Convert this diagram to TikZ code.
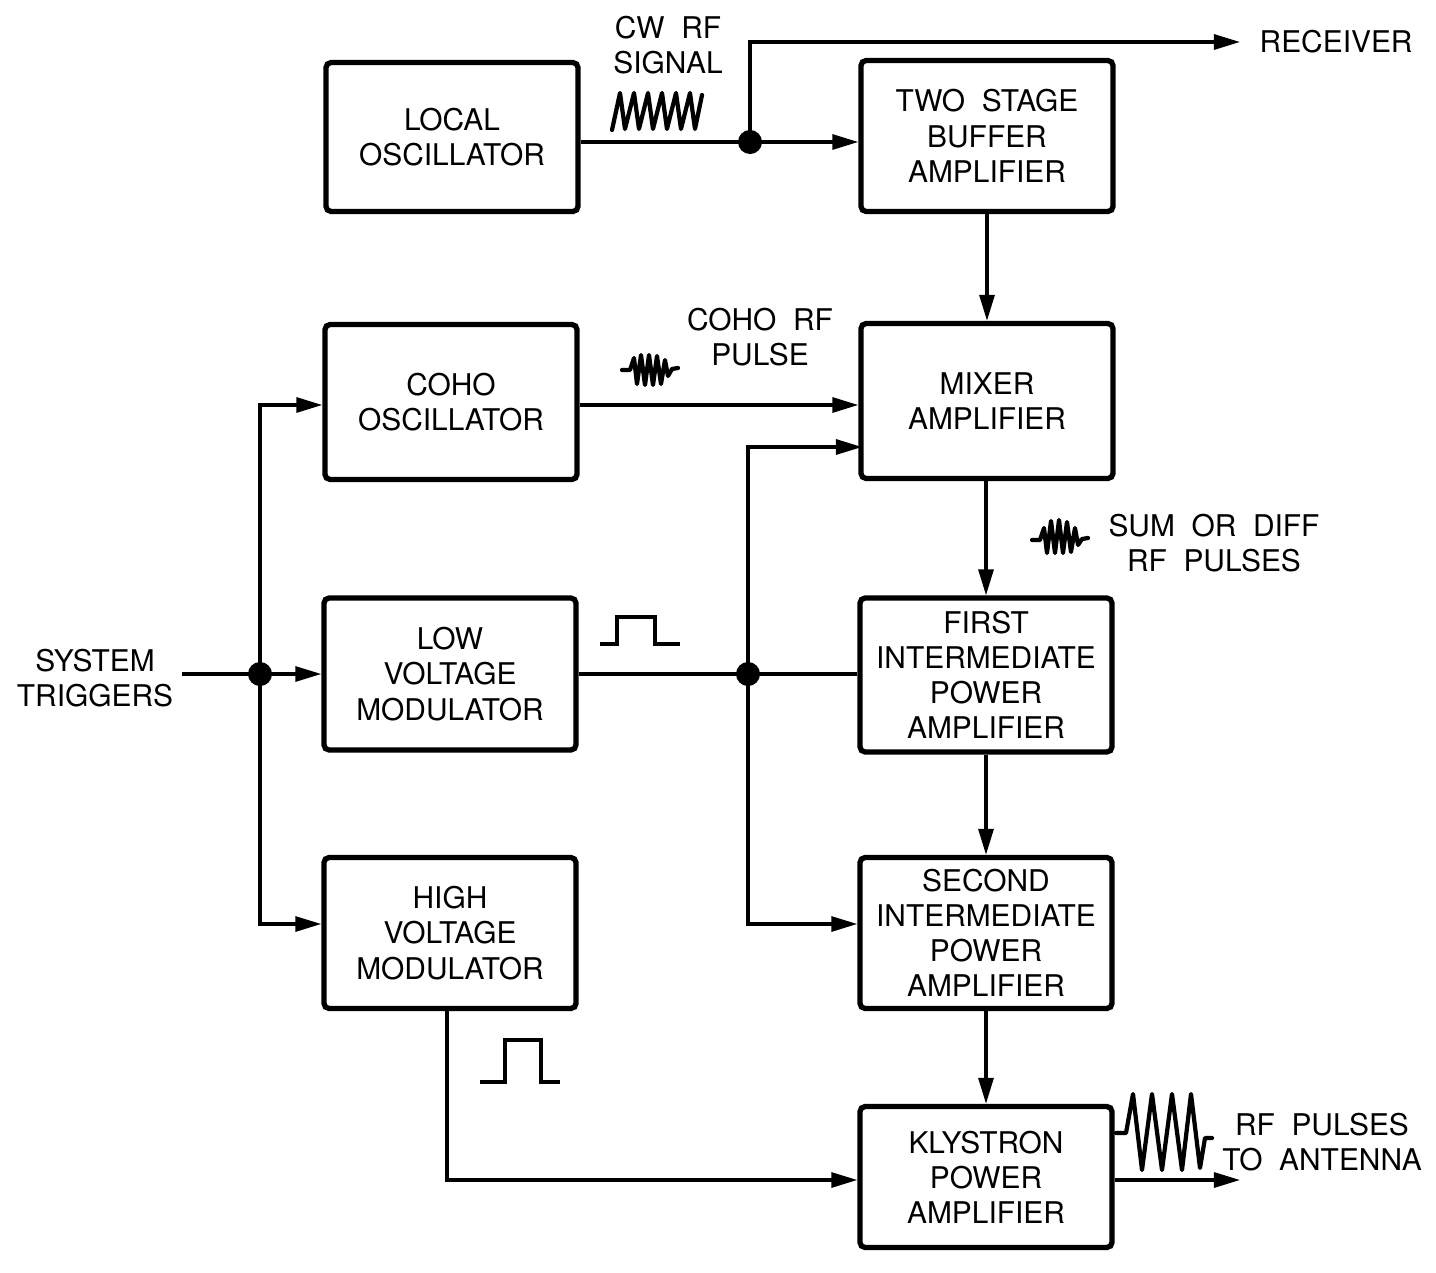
\documentclass[tikz,border=0pt]{standalone}
\usepackage{fontspec}
\setmainfont[WordSpace=2]{TeX Gyre Heros}
\usetikzlibrary{arrows.meta,calc}
\begin{document}
\begin{tikzpicture}[x=0.01cm,y=-0.01cm,
  box/.style={draw, line width=1.5pt, rounded corners=1.5pt, inner sep=0pt,
    minimum width=2.52cm, align=center, font=\fontsize{8.5}{10}\selectfont},
  lbl/.style={inner sep=0pt, align=center, font=\fontsize{8.5}{10}\selectfont},
  conn/.style={line width=0.9pt},
  arr/.style={line width=0.9pt, -{Triangle[length=0.26cm,width=0.15cm]}},
  wave/.style={line width=1.2pt, line join=round, line cap=round},
  dot/.style={circle, fill=black, inner sep=0pt, minimum size=0.24cm}
]
\useasboundingbox (0,0) rectangle (1436,1273);

% boxes
\node[box, minimum height=1.49cm] (lo)   at (452,137)  {LOCAL\\OSCILLATOR};
\node[box, minimum height=1.51cm] (buf)  at (987,136)  {TWO STAGE\\BUFFER\\AMPLIFIER};
\node[box, minimum height=1.55cm] (coho) at (451,402)  {COHO\\OSCILLATOR};
\node[box, minimum height=1.55cm] (mix)  at (987,401)  {MIXER\\AMPLIFIER};
\node[box, minimum height=1.52cm] (lvm)  at (450,674)  {LOW\\VOLTAGE\\MODULATOR};
\node[box, minimum height=1.54cm] (fipa) at (986,675)  {FIRST\\INTERMEDIATE\\POWER\\AMPLIFIER};
\node[box, minimum height=1.51cm] (hvm)  at (450,933)  {HIGH\\VOLTAGE\\MODULATOR};
\node[box, minimum height=1.51cm] (sipa) at (986,933)  {SECOND\\INTERMEDIATE\\POWER\\AMPLIFIER};
\node[box, minimum height=1.41cm] (kly)  at (986,1177) {KLYSTRON\\POWER\\AMPLIFIER};

% labels
\node[lbl] (cwl)   at (668,45)   {CW RF\\SIGNAL};
\node[lbl] (cohol) at (760,337)  {COHO RF\\PULSE};
\node[lbl] (suml)  at (1214,543) {SUM OR DIFF\\RF PULSES};
\node[lbl] (antl)  at (1322,1142) {RF PULSES\\TO ANTENNA};
\node[lbl] (stl)   at (95,678)   {SYSTEM\\TRIGGERS};
\node[lbl, anchor=west] (rcvl) at (1259,42) {RECEIVER};

% junctions / coordinates
\coordinate (j1) at (750,142);
\coordinate (rcv) at (1240,42);
\coordinate (j2) at (748,674);
\coordinate (m2) at (862,447);
\coordinate (s2) at ($(sipa.west)+(0,-9)$);
\coordinate (st) at (182,674);
\coordinate (j3) at (260,674);
\coordinate (h2) at ($(hvm.west)+(0,-9)$);
\coordinate (ant) at (1240,1177);

% connectors
\draw[conn] (lo.east |- j1) -- (j1);
\draw[arr] (j1) -- (j1 -| buf.west);
\draw[arr] (j1) |- (rcv);
\draw[arr] (buf.south) -- (mix.north);
\draw[arr] (coho.east |- 0,405) -- (mix.west |- 0,405);
\draw[arr] (mix.south -| fipa.north) -- (fipa.north);
\draw[arr] (fipa.south) -- (sipa.north);
\draw[arr] (sipa.south) -- (kly.north);
\draw[conn] (lvm.east) -- (lvm.east -| fipa.west);
\draw[arr] (j2) |- (m2);
\draw[arr] (j2) |- (s2);
\draw[conn] (st) -- (j3);
\draw[arr] (j3) -- (lvm.west);
\draw[arr] (j3) |- (coho.west |- 0,405);
\draw[arr] (j3) |- (h2);
\draw[arr] (447,1008) |- (kly.west |- 0,1180);
\draw[arr] (kly.east |- 0,1180) -- (ant |- 0,1180);

\node[dot] at (j1) {};
\node[dot] at (j2) {};
\node[dot] at (j3) {};

% waveforms
\draw[wave] (612,130) -- (620,93) -- (625,129) -- (634,93) -- (639,129) -- (648,93) -- (653,129) -- (662,93) -- (667,129) -- (676,93) -- (681,129) -- (690,93) -- (695,129) -- (702,95);
\draw[wave] (622,370) -- (630,370) -- (634,358) -- (637,384) -- (641,355) -- (645,385) -- (649,355) -- (653,385) -- (657,356) -- (661,384) -- (665,360) -- (668,376) -- (672,369) -- (678,368);
\draw[wave] (1032,540) -- (1040,540) -- (1044,528) -- (1047,553) -- (1051,521) -- (1055,553) -- (1059,520) -- (1063,553) -- (1067,522) -- (1071,552) -- (1075,528) -- (1078,545) -- (1082,539) -- (1088,538);
\draw[line width=1.1pt] (600,644) -- (617,644) -- (617,617) -- (655,617) -- (655,644) -- (680,644);
\draw[line width=1.4pt] (480,1082) -- (505,1082) -- (505,1040) -- (541,1040) -- (541,1082) -- (560,1082);
\draw[wave] (1116,1133) -- (1126,1133) -- (1133,1094) -- (1142,1170) -- (1152,1094) -- (1162,1170) -- (1172,1094) -- (1182,1170) -- (1191,1094) -- (1200,1168) -- (1205,1138) -- (1212,1138);
\end{tikzpicture}
\end{document}
